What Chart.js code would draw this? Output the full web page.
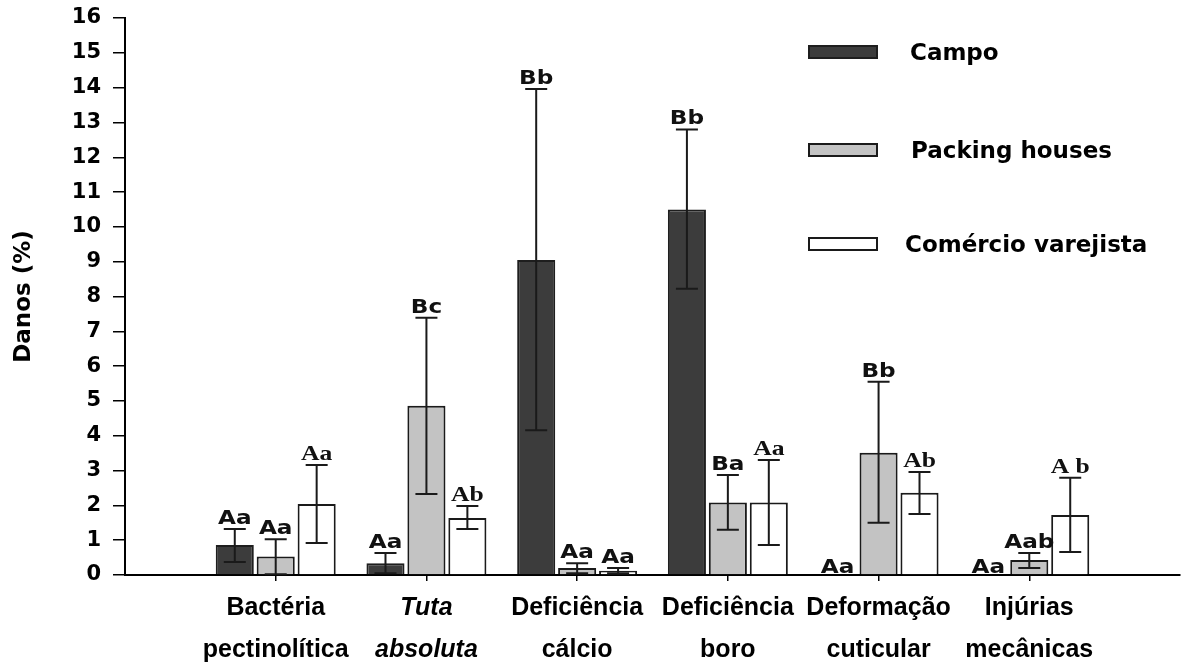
<!DOCTYPE html>
<html><head><meta charset="utf-8">
<script src="https://cdn.jsdelivr.net/npm/chart.js@4.4.0/dist/chart.umd.min.js"></script>
<style>html,body{margin:0;padding:0;background:#fff}#wrap{width:1183px;height:668px;position:relative}</style>
</head><body><div id="wrap"><canvas id="c" width="1183" height="668"></canvas></div>
<script>
// ---- data ----
const categories = [['Bactéria','pectinolítica'],['Tuta','absoluta'],['Deficiência','cálcio'],['Deficiência','boro'],['Deformação','cuticular'],['Injúrias','mecânicas']];
const seriesNames = ['Campo','Packing houses','Comércio varejista'];
const campo        = [0.86, 0.34, 9.05, 10.5, 0, 0];
const campoLow     = [0.37, 0.05, 4.16, 8.22, null, null];
const campoHigh    = [1.32, 0.63, 13.96, 12.8, null, null];
const packing      = [0.53, 4.86, 0.20, 2.08, 3.51, 0.43];
const packingLow   = [0.02, 2.33, 0.05, 1.30, 1.50, 0.20];
const packingHigh  = [1.03, 7.39, 0.34, 2.87, 5.55, 0.63];
const comercio     = [2.04, 1.64, 0.12, 2.08, 2.36, 1.72];
const comercioLow  = [0.92, 1.32, 0.05, 0.86, 1.75, 0.66];
const comercioHigh = [3.16, 1.98, 0.20, 3.30, 2.96, 2.79];
const campoLetters    = ['Aa','Aa','Bb','Bb','Aa','Aa'];
const packingLetters  = ['Aa','Bc','Aa','Ba','Bb','Aab'];
const comercioLetters = ['Aa','Ab','Aa','Aa','Ab','A b'];
const yTickValues = [0,1,2,3,4,5,6,7,8,9,10,11,12,13,14,15,16];
const yTitle = 'Danos (%)';

// ---- styles ----
const colors = ['#3c3c3c','#c3c3c3','#ffffff'];
const borders = ['#1e1e1e','#1a1a1a','#1a1a1a'];
const serifComercio = [true,true,false,true,true,true];
const SANS = "'DejaVu Sans', 'Liberation Sans', sans-serif";

const toXY = arr => arr.map((v,i)=>({x:i, y:v}));
const sets = [
  {data:campo, low:campoLow, high:campoHigh, letters:campoLetters, serif:[false,false,false,false,false,false]},
  {data:packing, low:packingLow, high:packingHigh, letters:packingLetters, serif:[false,false,false,false,false,false]},
  {data:comercio, low:comercioLow, high:comercioHigh, letters:comercioLetters, serif:serifComercio}
];

const extras = {
  id:'extras',
  afterDatasetsDraw(chart){
    const ctx = chart.ctx, ys = chart.scales.y, ca = chart.chartArea;
    chart.data.datasets.forEach((ds, di) => {
      const meta = chart.getDatasetMeta(di);
      const s = sets[di];
      meta.data.forEach((bar, i) => {
        const x = bar.x;
        let top = ys.getPixelForValue(s.data[i]);
        let gap = 5;
        if (s.high[i] != null){
          const pl = ys.getPixelForValue(s.low[i]), ph = ys.getPixelForValue(s.high[i]);
          ctx.save();
          ctx.strokeStyle = '#1a1a1a'; ctx.lineWidth = 2;
          ctx.beginPath();
          ctx.moveTo(x, pl); ctx.lineTo(x, ph);
          ctx.moveTo(x-11, pl); ctx.lineTo(x+11, pl);
          ctx.moveTo(x-11, ph); ctx.lineTo(x+11, ph);
          ctx.stroke();
          ctx.restore();
          top = Math.min(top, ph);
        } else if (s.data[i] === 0) { gap = 2; }
        ctx.save();
        ctx.fillStyle = '#111';
        ctx.textAlign = 'center'; ctx.textBaseline = 'alphabetic';
        ctx.font = s.serif[i] ? "bold 21px 'Liberation Serif', serif" : "bold 19px " + SANS;
        ctx.translate(x, top - gap);
        ctx.scale(1.22, 1);
        ctx.fillText(s.letters[i], 0, 0);
        ctx.restore();
      });
    });
    // legend
    const lx = ca.right - 372;
    const rows = [52, 150, 244];
    const tx = [lx+102, lx+103, lx+97];
    chart.data.datasets.forEach((ds, di) => {
      const cy = rows[di];
      ctx.save();
      ctx.fillStyle = ds.backgroundColor;
      ctx.strokeStyle = ds.borderColor;
      ctx.lineWidth = 2;
      ctx.fillRect(lx, cy-7, 70, 14);
      ctx.strokeRect(lx+1, cy-6, 68, 12);
      ctx.fillStyle = '#000';
      ctx.font = "bold 23px " + SANS;
      ctx.textAlign = 'left'; ctx.textBaseline = 'middle';
      ctx.fillText(ds.label, tx[di], cy+2);
      ctx.restore();
    });
  }
};

new Chart(document.getElementById('c'), {
  type:'bar',
  data:{
    datasets: sets.map((s, di) => ({
      label: seriesNames[di],
      data: toXY(s.data),
      backgroundColor: colors[di],
      borderColor: borders[di],
      borderWidth: 2,
      categoryPercentage: 0.815,
      barPercentage: 0.93
    }))
  },
  plugins:[extras],
  options:{
    responsive:false, animation:false, devicePixelRatio:1,
    layout:{padding:{top:0, right:3, left:0, bottom:0}},
    plugins:{legend:{display:false}, tooltip:{enabled:false}},
    scales:{
      x:{
        type:'linear', min:-1, max:6, bounds:'data', offset:false,
        afterBuildTicks: sc => { sc.ticks = categories.map((c,i)=>({value:i})); },
        afterFit: sc => { sc.height = 93; },
        ticks:{
          autoSkip:false, maxRotation:0, minRotation:0, color:'#000', padding:6,
          callback: v => categories[v] || '',
          font: c => ({family:"'Liberation Sans', Arial, sans-serif", size:25, weight:'bold', style: c.index===1 ? 'italic':'normal', lineHeight:'42px'})
        },
        grid:{drawOnChartArea:false, drawTicks:true, tickLength:6, color:'#000', lineWidth:1.5, offset:false},
        border:{color:'#000', width:2}
      },
      y:{
        min:0, max:16,
        afterBuildTicks: sc => { sc.ticks = yTickValues.map(v=>({value:v})); },
        afterFit: sc => { sc.width = 125; sc.paddingTop = 18; },
        ticks:{autoSkip:false, color:'#000', padding:12, font:{family:SANS, size:21, weight:'bold'}},
        grid:{drawOnChartArea:false, drawTicks:true, tickLength:12, color:'#000', lineWidth:1.5},
        border:{color:'#000', width:2},
        title:{display:true, text:yTitle, color:'#000', font:{family:SANS, size:23, weight:'bold'}, padding:{top:10, bottom:0}}
      }
    }
  }
});
</script>
</body></html>
